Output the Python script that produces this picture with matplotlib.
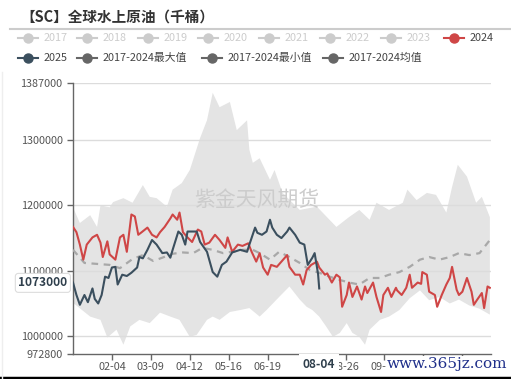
import matplotlib
matplotlib.use("Agg")
import matplotlib.pyplot as plt
from matplotlib.lines import Line2D

plt.rcParams['font.family'] = ['Noto Sans CJK SC', 'DejaVu Sans']

# day-of-year (0 = 01-01) and values
max_day = [0, 6, 15, 21, 24, 32, 35, 44, 52, 61, 67, 73, 82, 87, 95, 102, 111, 117, 122, 128,
           137, 143, 152, 154, 157, 163, 172, 176, 183, 198, 213, 230, 241, 250, 259, 265,
           276, 288, 292, 300, 309, 317, 326, 331, 336, 344, 352, 357, 364]
max_val = [1197000, 1173000, 1185000, 1167000, 1200000, 1197000, 1205000, 1211000, 1204000,
           1231000, 1213000, 1211000, 1198000, 1224000, 1234000, 1254000, 1303000, 1330000,
           1372000, 1350000, 1358000, 1315000, 1330000, 1285000, 1265000, 1272000, 1239000,
           1254000, 1219000, 1193000, 1198000, 1167000, 1182000, 1193000, 1178000, 1204000,
           1193000, 1204000, 1224000, 1208000, 1219000, 1216000, 1189000, 1228000, 1262000,
           1244000, 1204000, 1213000, 1182000]

min_day = [0, 15, 24, 30, 38, 44, 50, 58, 67, 76, 85, 93, 102, 108, 117, 122, 128, 137, 146,
           154, 163, 169, 180, 189, 198, 204, 209, 215, 221, 227, 233, 239, 244, 250, 255,
           259, 268, 276, 285, 294, 303, 311, 320, 329, 337, 346, 355, 364]
min_val = [1051000, 1030000, 1025000, 998000, 1010000, 987000, 1015000, 1025000, 1020000,
           1036000, 1030000, 1025000, 999000, 1002000, 1025000, 1030000, 1025000, 1037000,
           1040000, 1043000, 1030000, 1040000, 1060000, 1076000, 1056000, 1045000, 1040000,
           1030000, 1015000, 999000, 1005000, 1020000, 1005000, 999000, 987000, 1010000,
           1025000, 1030000, 1040000, 1058000, 1070000, 1055000, 1060000, 1050000, 1056000,
           1047000, 1042000, 1033000]

mean_day = [0, 10, 32, 41, 52, 61, 70, 78, 87, 96, 105, 113, 122, 131, 139, 148, 157, 163,
            172, 180, 189, 198, 207, 215, 224, 233, 241, 250, 259, 268, 276, 285, 294, 303,
            311, 320, 329, 337, 346, 355, 364]
mean_val = [1132000, 1112000, 1109000, 1104000, 1118000, 1124000, 1115000, 1120000, 1126000,
            1128000, 1127000, 1135000, 1132000, 1127000, 1129000, 1132000, 1132000, 1127000,
            1117000, 1129000, 1121000, 1112000, 1101000, 1097000, 1091000, 1086000, 1082000,
            1079000, 1089000, 1089000, 1094000, 1098000, 1106000, 1117000, 1121000, 1117000,
            1121000, 1127000, 1124000, 1127000, 1147000]

y2024_day = [0, 3, 6, 9, 12, 17, 21, 24, 26, 30, 32, 37, 41, 44, 47, 51, 54, 57, 60, 65, 69,
             73, 76, 80, 85, 87, 91, 93, 96, 100, 104, 109, 112, 115, 119, 124, 128, 133, 135,
             139, 144, 148, 153, 156, 160, 163, 166, 170, 173, 178, 182, 187, 189, 194, 198,
             201, 204, 208, 213, 215, 220, 222, 226, 230, 233, 235, 239, 241, 244, 248, 252,
             255, 257, 262, 265, 269, 271, 275, 278, 282, 283, 287, 291, 294, 296, 301, 304,
             305, 309, 311, 316, 318, 322, 326, 329, 331, 335, 337, 340, 344, 348, 350, 353,
             357, 359, 362, 364]
y2024_val = [1167000, 1159000, 1140000, 1117000, 1140000, 1151000, 1155000, 1143000, 1121000,
             1145000, 1125000, 1117000, 1151000, 1155000, 1129000, 1186000, 1183000, 1155000,
             1159000, 1166000, 1155000, 1151000, 1159000, 1167000, 1180000, 1186000, 1178000,
             1189000, 1159000, 1151000, 1144000, 1163000, 1160000, 1140000, 1143000, 1155000,
             1147000, 1135000, 1151000, 1129000, 1140000, 1138000, 1142000, 1129000, 1114000,
             1127000, 1105000, 1094000, 1109000, 1106000, 1114000, 1124000, 1106000, 1094000,
             1094000, 1079000, 1101000, 1109000, 1114000, 1105000, 1094000, 1096000, 1082000,
             1094000, 1090000, 1045000, 1063000, 1082000, 1060000, 1076000, 1056000, 1076000,
             1066000, 1082000, 1060000, 1037000, 1063000, 1074000, 1060000, 1074000, 1070000,
             1063000, 1074000, 1094000, 1074000, 1082000, 1080000, 1098000, 1094000, 1068000,
             1063000, 1045000, 1063000, 1079000, 1089000, 1106000, 1071000, 1063000, 1068000,
             1089000, 1068000, 1048000, 1056000, 1066000, 1043000, 1076000, 1074000]

y2025_day = [0, 3, 6, 10, 13, 17, 19, 22, 25, 28, 31, 34, 37, 39, 43, 47, 51, 56, 58, 61, 65,
             69, 73, 78, 82, 85, 87, 92, 95, 98, 100, 105, 108, 111, 117, 122, 126, 130, 134,
             139, 146, 152, 154, 159, 161, 165, 169, 172, 174, 178, 182, 187, 189, 194, 198,
             202, 205, 209, 211, 214, 215]
y2025_val = [1082000, 1063000, 1048000, 1063000, 1052000, 1073000, 1057000, 1050000, 1063000,
             1091000, 1089000, 1105000, 1106000, 1079000, 1094000, 1092000, 1097000, 1105000,
             1121000, 1119000, 1132000, 1147000, 1140000, 1127000, 1128000, 1120000, 1132000,
             1160000, 1155000, 1140000, 1160000, 1160000, 1160000, 1144000, 1129000, 1098000,
             1091000, 1109000, 1114000, 1128000, 1132000, 1129000, 1140000, 1166000, 1158000,
             1155000, 1160000, 1178000, 1166000, 1155000, 1150000, 1160000, 1166000, 1155000,
             1143000, 1140000, 1109000, 1120000, 1127000, 1095000, 1073000]

x_ticks = [34, 68, 102, 136, 170, 204, 238, 272, 306, 340]
# labels hidden behind the pointer box / site stamp in the reference are left blank
x_labels = ['02-04', '03-09', '04-12', '05-16', '06-19', '', '08-26', '09-29', '', '']
y_ticks = [972800, 1000000, 1100000, 1200000, 1300000, 1387000]

legend_names = ['2017', '2018', '2019', '2020', '2021', '2022', '2023', '2024',
                '2025', '2017-2024最大值', '2017-2024最小值', '2017-2024均值']

red = '#cf4646'
navy = '#3b4f5e'

fig = plt.figure(figsize=(5.11, 3.79), dpi=100)
W, H = 511, 379
ax = fig.add_axes([73 / W, 1 - 354 / H, 418 / W, 271 / H])

band_x = max_day + min_day[::-1]
band_y = max_val + min_val[::-1]
ax.fill(band_x, band_y, color='#e4e4e4', lw=0, zorder=1)

for yv in y_ticks[1:]:
    ax.axhline(yv, color='#dcdcdc', lw=1, zorder=2)

ax.plot(mean_day, mean_val, color='#a8a8a8', lw=1.6, ls=(0, (3, 2.5)), zorder=3)
ax.plot(y2024_day, y2024_val, color=red, lw=1.5, zorder=4)
ax.plot(y2025_day, y2025_val, color=navy, lw=1.5, zorder=5)

ax.text(0.44, 0.57, '紫金天风期货', transform=ax.transAxes, fontsize=15,
        color='#cccccc', ha='center', va='center', zorder=6)

ax.set_xlim(0, 365)
ax.set_ylim(972800, 1387000)
ax.set_yticks(y_ticks)
ax.set_yticklabels([str(v) for v in y_ticks])
ax.set_xticks(x_ticks)
ax.set_xticklabels(x_labels)
ax.tick_params(axis='both', colors='#666666', labelcolor='#555555', labelsize=7.8,
               length=4, width=1)
ax.tick_params(axis='x', pad=2)
for s in ['top', 'right']:
    ax.spines[s].set_visible(False)
for s in ['left', 'bottom']:
    ax.spines[s].set_color('#666666')
    ax.spines[s].set_linewidth(1)

# axis pointer labels
ax.annotate('1073000', xy=(0, 1073000), xycoords=('axes fraction', 'data'),
            xytext=(-4, 4), textcoords='offset points', ha='right', va='center',
            fontsize=8.6, fontweight='bold', color='#2f3f4c', zorder=10,
            bbox=dict(boxstyle='round,pad=0.25', fc='white', ec='#dddddd', lw=0.8),
            annotation_clip=False)
ax.annotate('08-04', xy=(215, 972800), xycoords='data', xytext=(0, -7.5),
            textcoords='offset points', ha='center', va='center', fontsize=8.6,
            fontweight='bold', color='#2f3f4c', zorder=10,
            bbox=dict(boxstyle='square,pad=0.3', fc='white', ec='none'),
            annotation_clip=False)

# title
fig.text(20 / W, 1 - 17 / H, '【SC】全球水上原油（千桶）', fontsize=10.5, fontweight='bold',
         color='#333333', va='center', ha='left')
fig.add_artist(Line2D([10 / W, 1], [1 - 28.5 / H] * 2, color='#cccccc', lw=1.5))

# legend
leg_colors = ['#cccccc'] * 7 + [red, navy, '#666666', '#666666', '#666666']
leg_x = [28, 87, 148, 208, 269, 330, 391, 454, 28, 87, 212, 333]
leg_y = [38] * 8 + [58] * 4
for name, c, lx, ly in zip(legend_names, leg_colors, leg_x, leg_y):
    fy = 1 - ly / H
    fig.add_artist(Line2D([(lx - 10) / W, (lx + 10) / W], [fy, fy], color=c, lw=1.5))
    fig.add_artist(Line2D([lx / W], [fy], color=c, marker='o', ms=6.5, lw=0))
    tc = '#cccccc' if c == '#cccccc' else '#444444'
    fig.text((lx + 16) / W, fy, name, fontsize=7.8, color=tc, va='center', ha='left')

fig.text(447 / W, 1 - 364 / H, 'www.365jz.com', fontsize=11, family='DejaVu Serif',
         color='#1f2f8a', ha='center', va='center', zorder=20,
         bbox=dict(boxstyle='square,pad=0.05', fc='white', ec='none'))

fig.add_artist(Line2D([0, 1], [1.2 / H, 1.2 / H], color='black', lw=2.5))
fig.add_artist(Line2D([2 / W, 2 / W], [0, 1 - 72 / H], color='#eeeeee', lw=1))

fig.savefig('out.png', dpi=100)
